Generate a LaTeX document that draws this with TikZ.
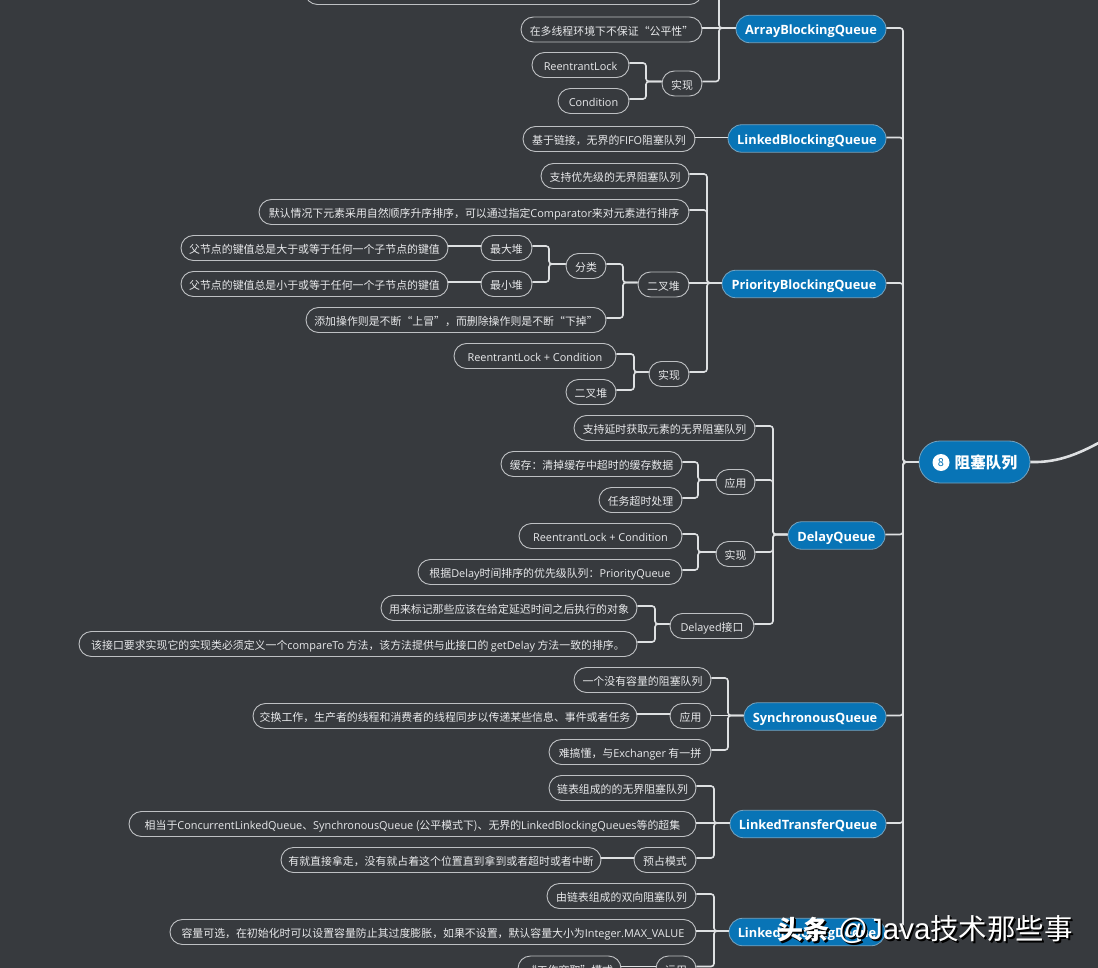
\documentclass[tikz,border=0pt]{standalone}
\usepackage{fontspec}
\setmainfont{Noto Sans CJK SC}
\newfontfamily\latf{Open Sans}
\newfontfamily\markf{Liberation Sans}
\usetikzlibrary{shapes.misc}
\definecolor{bgc}{RGB}{55,58,62}
\definecolor{bluec}{RGB}{8,116,182}
\definecolor{linec}{RGB}{222,224,226}
\definecolor{edgec}{RGB}{190,192,195}
\definecolor{txtc}{RGB}{232,233,235}
\newcommand{\lat}[1]{{\latf #1}}
\tikzset{
 pillbox/.style={rounded rectangle,draw=edgec,line width=0.9pt,fill=bgc,inner sep=0pt,minimum height=25pt,text=txtc,font=\fontsize{10.9}{12}\selectfont},
 bluebox/.style={rounded rectangle,draw=edgec!60!bluec,line width=0.8pt,fill=bluec,inner sep=0pt,minimum height=27.5pt,text=white,font=\latf\bfseries\fontsize{12.8}{15}\selectfont},
 rootbox/.style={bluebox,minimum height=42pt},
 conn/.style={draw=linec,line width=1.6pt,rounded corners=3pt},
 thick curve/.style={draw=linec,line width=2.6pt},
 wmark/.style={inner sep=0pt,anchor=base west},
}
% left, right, centre y, text
\newcommand{\pill}[5]{\node[pillbox,minimum width={(#3-#2)*1pt}] (#1) at ({(#2+#3)/2},#4) {\makebox[0pt][c]{\raisebox{-5.6pt}[0pt][0pt]{#5}}};}
\newcommand{\blue}[5]{\node[bluebox,minimum width={(#3-#2)*1pt}] (#1) at ({(#2+#3)/2},#4) {\makebox[0pt][c]{\raisebox{-5.6pt}[0pt][0pt]{#5}}};}
% kid shift, parent shift, kid, parent, bus
\newcommand{\lnkbase}[5]{\draw[conn] ([yshift=#1pt]#3.east) -- ([yshift=#1pt]#5 |- #3.east) -- ([yshift=#2pt]#5 |- #4.west) -- ([yshift=#2pt]#4.west);}
\newcommand{\lnkA}[3]{\lnkbase{2}{2}{#1}{#2}{#3}}
\newcommand{\lnkB}[3]{\lnkbase{2}{1}{#1}{#2}{#3}}
\newcommand{\lnkC}[3]{\lnkbase{1}{0}{#1}{#2}{#3}}
\newcommand{\straightA}[2]{\draw[conn] ([yshift=2pt]#1.east |- #2.west) -- ([yshift=2pt]#2.west);}
\newcommand{\straightB}[2]{\draw[conn] ([yshift=1pt]#1.east |- #2.west) -- ([yshift=1pt]#2.west);}
\begin{document}
\begin{tikzpicture}[x=1pt,y=-1pt]
\useasboundingbox (0,0) rectangle (1098,968);
\clip (0,0) rectangle (1098,968);
\fill[bgc] (0,0) rectangle (1098,968);
% bus positions
\coordinate (trunk) at (903,0);
\coordinate (busa) at (719,0);
\coordinate (busaa) at (646,0);
\coordinate (busp) at (707,0);
\coordinate (buspa) at (549,0);
\coordinate (buspb) at (623,0);
\coordinate (buspc) at (634,0);
\coordinate (busd) at (773,0);
\coordinate (busda) at (698,0);
\coordinate (busdb) at (655,0);
\coordinate (buss) at (728,0);
\coordinate (bust) at (714,0);
\coordinate (busl) at (714,0);
\coordinate (curveend) at (1104,440);
% nodes
\node[rootbox,minimum width=111pt] (root) at (974.5,462) {};
\node[inner sep=0pt,text=white,font=\bfseries\fontsize{15.6}{18}\selectfont,anchor=west] (rootlabel) at (954.5,463) {阻塞队列};
\node[circle,fill=white,inner sep=0pt,minimum size=17pt,text=bluec,font=\fontsize{11}{12}\selectfont] (rooticon) at (941,462.5) {8};
\blue{abq}{736}{886}{29}{ArrayBlockingQueue}
\pill{topcut}{305}{702}{-8}{}
\pill{fair}{521}{702}{29.5}{在多线程环境下不保证“公平性”}
\pill{arl}{532}{629}{65}{\lat{ReentrantLock}}
\pill{acond}{558}{629}{101}{\lat{Condition}}
\pill{aimpl}{662}{702}{83.5}{实现}
\blue{lbq}{728}{886}{138.5}{LinkedBlockingQueue}
\pill{lfifo}{523}{695}{139}{基于链接，无界的\lat{FIFO}阻塞队列}
\blue{pbq}{722}{886}{284}{PriorityBlockingQueue}
\pill{pa}{541}{689}{176}{支持优先级的无界阻塞队列}
\pill{pb}{259}{689}{212}{默认情况下元素采用自然顺序升序排序，可以通过指定\lat{Comparator}来对元素进行排序}
\pill{pmaxd}{181}{448}{248}{父节点的键值总是大于或等于任何一个子节点的键值}
\pill{pmax}{481}{532}{248}{最大堆}
\pill{pmind}{181}{448}{284}{父节点的键值总是小于或等于任何一个子节点的键值}
\pill{pmin}{481}{532}{284}{最小堆}
\pill{pcls}{566}{606}{266}{分类}
\pill{pheap}{638}{689}{284.5}{二叉堆}
\pill{padd}{306}{606}{320}{添加操作则是不断“上冒”，而删除操作则是不断“下掉”}
\pill{prl}{454}{616}{356}{\lat{ReentrantLock + Condition}}
\pill{pheap2}{566}{616}{392}{二叉堆}
\pill{pimpl}{649}{689}{374}{实现}
\blue{dq}{788}{885}{535.5}{DelayQueue}
\pill{da}{574}{755}{428}{支持延时获取元素的无界阻塞队列}
\pill{dc}{501}{682}{464}{缓存：清掉缓存中超时的缓存数据}
\pill{dt}{599}{682}{500}{任务超时处理}
\pill{dapp}{716}{755}{482}{应用}
\pill{drl}{519}{682}{536}{\lat{ReentrantLock + Condition}}
\pill{dpq}{418}{682}{572}{根据\lat{Delay}时间排序的优先级队列：\lat{PriorityQueue}}
\pill{dimpl}{716}{755}{554}{实现}
\pill{dm}{381}{637}{608}{用来标记那些应该在给定延迟时间之后执行的对象}
\pill{dcmp}{79}{637}{644}{该接口要求实现它的实现类必须定义一个\lat{compareTo} 方法，该方法提供与此接口的 \lat{getDelay} 方法一致的排序。}
\pill{dif}{670}{754}{626}{\lat{Delayed}接口}
\blue{sq}{744}{886}{716.5}{SynchronousQueue}
\pill{sa}{574}{711}{680}{一个没有容量的阻塞队列}
\pill{sx}{253}{637}{716}{交换工作，生产者的线程和消费者的线程同步以传递某些信息、事件或者任务}
\pill{sapp}{670}{711}{716}{应用}
\pill{sh}{549}{711}{752}{难搞懂，与\lat{Exchanger} 有一拼}
\blue{tq}{730}{886}{824}{LinkedTransferQueue}
\pill{ta}{549}{696}{788}{链表组成的的无界阻塞队列}
\pill{tb}{129}{696}{824}{相当于\lat{ConcurrentLinkedQueue}、\lat{SynchronousQueue} (公平模式下)、无界的\lat{LinkedBlockingQueues}等的超集}
\pill{tc}{281}{601}{860}{有就直接拿走，没有就占着这个位置直到拿到或者超时或者中断}
\pill{tmode}{634}{696}{860}{预占模式}
\blue{ld}{729}{885}{932}{LinkedBlockingDeque}
\pill{la}{547}{696}{896}{由链表组成的双向阻塞队列}
\pill{lb}{170}{696}{932}{容量可选，在初始化时可以设置容量防止其过度膨胀，如果不设置，默认容量大小为\lat{Integer.MAX\_VALUE}}
\pill{lc}{518}{621}{968.5}{“工作窃取”模式}
\pill{luse}{656}{696}{968.5}{运用}
% connectors
\draw[thick curve] (root.east) .. controls (1060,463) and (1082,452) .. (curveend);
\lnkC{abq}{root}{trunk}
\lnkC{lbq}{root}{trunk}
\lnkC{pbq}{root}{trunk}
\lnkC{dq}{root}{trunk}
\lnkC{sq}{root}{trunk}
\lnkC{tq}{root}{trunk}
\lnkC{ld}{root}{trunk}
\lnkB{topcut}{abq}{busa}
\lnkB{aimpl}{abq}{busa}
\straightB{fair}{abq}
\lnkA{arl}{aimpl}{busaa}
\lnkA{acond}{aimpl}{busaa}
\straightB{lfifo}{lbq}
\lnkB{pa}{pbq}{busp}
\lnkB{pb}{pbq}{busp}
\lnkB{pimpl}{pbq}{busp}
\straightB{pheap}{pbq}
\lnkA{pmax}{pcls}{buspa}
\lnkA{pmin}{pcls}{buspa}
\straightA{pmaxd}{pmax}
\straightA{pmind}{pmin}
\lnkA{pcls}{pheap}{buspb}
\lnkA{padd}{pheap}{buspb}
\lnkA{prl}{pimpl}{buspc}
\lnkA{pheap2}{pimpl}{buspc}
\lnkB{da}{dq}{busd}
\lnkB{dapp}{dq}{busd}
\lnkB{dimpl}{dq}{busd}
\lnkB{dif}{dq}{busd}
\lnkA{dc}{dapp}{busda}
\lnkA{dt}{dapp}{busda}
\lnkA{drl}{dimpl}{busda}
\lnkA{dpq}{dimpl}{busda}
\lnkA{dm}{dif}{busdb}
\lnkA{dcmp}{dif}{busdb}
\lnkB{sa}{sq}{buss}
\lnkB{sh}{sq}{buss}
\straightB{sapp}{sq}
\straightA{sx}{sapp}
\lnkB{ta}{tq}{bust}
\lnkB{tmode}{tq}{bust}
\straightB{tb}{tq}
\straightA{tc}{tmode}
\lnkB{la}{ld}{busl}
\lnkB{luse}{ld}{busl}
\straightB{lb}{ld}
\straightA{lc}{luse}
% watermark
\foreach \dx/\col in {1.8/black,0.9/black,0/white}{
 \node[wmark,text=\col,font=\bfseries\fontsize{26}{30}\selectfont] at ({777+\dx},{939.5+\dx}) {头条};
 \node[wmark,text=\col,font=\fontsize{28.5}{30}\selectfont] at ({838+\dx},{939.5+\dx}) {{\markf\fontsize{29.5}{30}\selectfont @Java}技术那些事};
}
\end{tikzpicture}
\end{document}
